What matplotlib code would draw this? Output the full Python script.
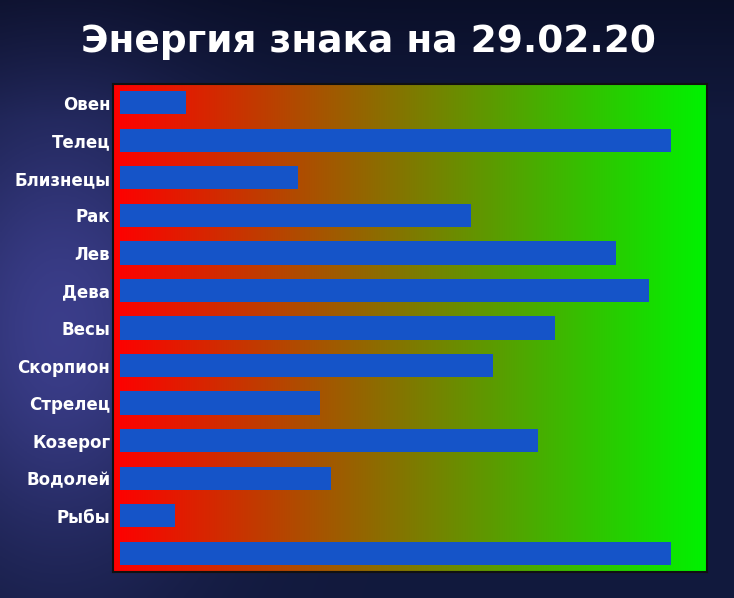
import numpy as np
import matplotlib.pyplot as plt

signs = ['Овен', 'Телец', 'Близнецы', 'Рак', 'Лев', 'Дева', 'Весы',
         'Скорпион', 'Стрелец', 'Козерог', 'Водолей', 'Рыбы', '']
energy = [11.2, 93.9, 30.3, 59.8, 84.5, 90.1, 74.1,
          63.5, 34.1, 71.2, 35.9, 9.4, 93.9]
title = 'Энергия знака на 29.02.20'

fig = plt.figure(figsize=(7.34, 5.98), dpi=100)

# night-sky backdrop (smooth gradient)
bg = fig.add_axes([0, 0, 1, 1], zorder=0)
gx, gy = np.meshgrid(np.linspace(0, 1, 300), np.linspace(0, 1, 240))
glow = np.exp(-((gx - 0.08) ** 2 / 0.04 + (gy - 0.55) ** 2 / 0.15))
top = np.clip(1 - gy / 0.2, 0, 1)
rgb = np.zeros(gx.shape + (3,))
rgb[..., 0] = 0.07 + 0.16 * glow - 0.03 * top
rgb[..., 1] = 0.10 + 0.14 * glow - 0.04 * top
rgb[..., 2] = 0.24 + 0.30 * glow - 0.08 * top
bg.imshow(np.clip(rgb, 0, 1), aspect='auto', extent=[0, 1, 0, 1], origin='upper')
bg.axis('off')

ax = fig.add_axes([0.154, 0.0435, 0.809, 0.816], zorder=1)
y = np.arange(len(signs))

# red -> green gradient panel
grad = np.linspace(0, 1, 256)
panel = np.zeros((1, 256, 3))
panel[0, :, 0] = 1 - grad
panel[0, :, 1] = grad * 0.95
ax.imshow(panel, aspect='auto', extent=[-1.2, 100, len(signs) - 0.5, -0.5],
          zorder=0)

ax.barh(y, energy, height=0.62, color='#1554c8', zorder=2)
ax.set_xlim(-1.2, 100)
ax.set_ylim(len(signs) - 0.5, -0.5)
ax.set_yticks(y)
ax.set_yticklabels(signs, color='white', fontsize=12, fontweight='heavy')
ax.tick_params(axis='y', length=0, pad=2)
ax.set_xticks([])
for s in ax.spines.values():
    s.set_color('#111111')
    s.set_linewidth(1.5)

fig.text(0.502, 0.93, title, color='white', fontsize=27, fontweight='heavy',
         ha='center', va='center')

fig.savefig('out.png', dpi=100)
